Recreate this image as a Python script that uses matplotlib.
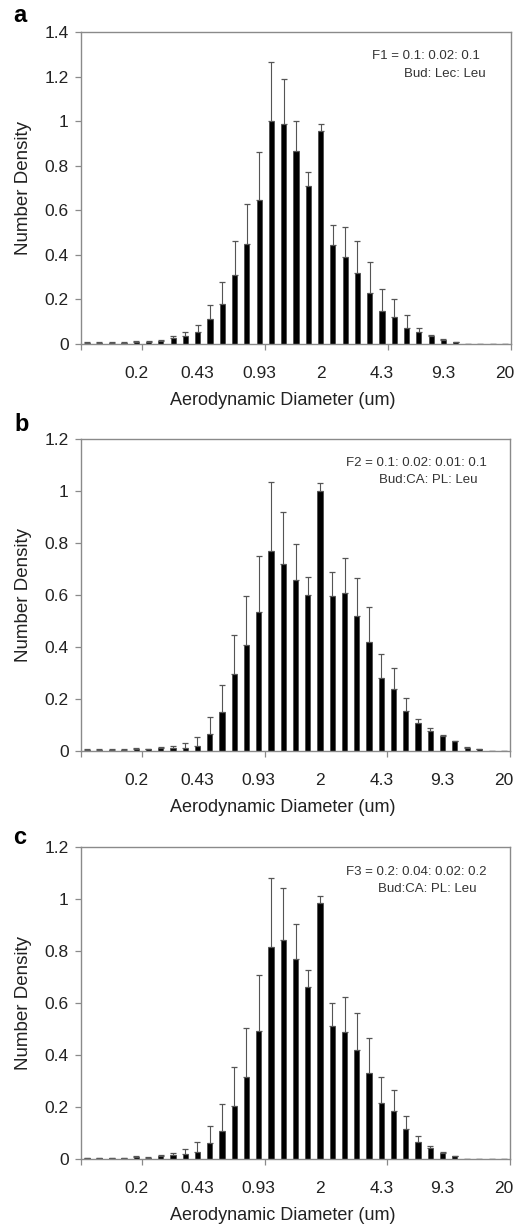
import numpy as np
import matplotlib
matplotlib.use("Agg")
import matplotlib.pyplot as plt

plt.rcParams['font.family'] = ['Liberation Sans', 'DejaVu Sans']

# size bins (35 categories), labelled every 5th bin
n_bins = 35
tick_pos = [4, 9, 14, 19, 24, 29, 34]
tick_labels = ['0.2', '0.43', '0.93', '2', '4.3', '9.3', '20']

# panel a: F1 = Bud:Lec:Leu
density_a = [0.005, 0.005, 0.006, 0.006, 0.01, 0.01, 0.015, 0.025, 0.035, 0.055,
             0.11, 0.18, 0.31, 0.45, 0.644, 1.0, 0.987, 0.864, 0.71, 0.958,
             0.445, 0.39, 0.318, 0.231, 0.149, 0.121, 0.072, 0.052, 0.034, 0.019,
             0.007, 0, 0, 0, 0]
err_a = [0.002, 0.002, 0.002, 0.002, 0.003, 0.003, 0.004, 0.01, 0.018, 0.03,
         0.065, 0.10, 0.15, 0.18, 0.217, 0.266, 0.2, 0.136, 0.063, 0.03,
         0.09, 0.137, 0.145, 0.135, 0.098, 0.082, 0.056, 0.02, 0.008, 0.003,
         0.001, 0, 0, 0, 0]

# panel b: F2 = Bud:CA:PL:Leu
density_b = [0.004, 0.004, 0.004, 0.004, 0.009, 0.006, 0.01, 0.01, 0.011, 0.02,
             0.066, 0.15, 0.296, 0.406, 0.533, 0.768, 0.72, 0.656, 0.601, 1.0,
             0.598, 0.608, 0.52, 0.419, 0.28, 0.237, 0.152, 0.106, 0.076, 0.056,
             0.037, 0.013, 0.008, 0, 0]
err_b = [0.002, 0.002, 0.002, 0.002, 0.003, 0.002, 0.004, 0.008, 0.019, 0.032,
         0.066, 0.105, 0.151, 0.19, 0.218, 0.268, 0.201, 0.139, 0.068, 0.03,
         0.089, 0.133, 0.145, 0.134, 0.095, 0.083, 0.053, 0.019, 0.013, 0.006,
         0.002, 0.001, 0, 0, 0]

# panel c: F3 = Bud:CA:PL:Leu
density_c = [0.003, 0.003, 0.003, 0.003, 0.008, 0.005, 0.011, 0.017, 0.019, 0.027,
             0.061, 0.106, 0.204, 0.317, 0.492, 0.816, 0.842, 0.768, 0.66, 0.983,
             0.512, 0.488, 0.419, 0.33, 0.215, 0.183, 0.115, 0.065, 0.041, 0.023,
             0.01, 0, 0, 0, 0]
err_c = [0.002, 0.002, 0.002, 0.002, 0.003, 0.002, 0.004, 0.005, 0.019, 0.037,
         0.067, 0.104, 0.15, 0.188, 0.215, 0.263, 0.201, 0.135, 0.067, 0.029,
         0.088, 0.136, 0.141, 0.134, 0.099, 0.083, 0.052, 0.024, 0.009, 0.005,
         0.001, 0, 0, 0, 0]

panels = [
    ('a', density_a, err_a, 1.4, 'F1 = 0.1: 0.02: 0.1', 'Bud: Lec: Leu'),
    ('b', density_b, err_b, 1.2, 'F2 = 0.1: 0.02: 0.01: 0.1', 'Bud:CA: PL: Leu'),
    ('c', density_c, err_c, 1.2, 'F3 = 0.2: 0.04: 0.02: 0.2', 'Bud:CA: PL: Leu'),
]

W, H = 516, 1229
fig = plt.figure(figsize=(W / 100, H / 100), dpi=100)

# axes boxes in pixels: left, top, right, bottom
boxes = [(81, 32, 511, 344), (81, 439, 510, 751), (81, 847, 510, 1159)]
text_pos = [((426, 56), (445, 74)), ((416, 463), (428, 480)), ((416, 872), (427, 889))]
letter_pos = [(20, 16), (22, 424), (20, 837)]

grey = '#8a8a8a'
x = np.arange(n_bins)

for (letter, dens, err, ymax, line1, line2), (l, t, r, b), tp, lp in zip(
        panels, boxes, text_pos, letter_pos):
    ax = fig.add_axes([l / W, 1 - b / H, (r - l) / W, (b - t) / H])
    ax.bar(x, dens, width=0.42, color='black', edgecolor='#333333', linewidth=0.4,
           yerr=[np.zeros(n_bins), err],
           error_kw=dict(ecolor='#555555', elinewidth=0.8, capsize=2.5, capthick=0.9))
    ax.set_xlim(-0.5, n_bins - 0.5)
    ax.set_ylim(0, ymax)
    yt = np.round(np.arange(0, ymax + 0.001, 0.2), 1)
    ax.set_yticks(yt)
    ax.set_yticklabels(['%g' % v for v in yt])
    ax.set_xticks(tick_pos)
    ax.set_xticklabels(tick_labels)
    ax.set_xticks([-0.5, 4.5, 14.5, 24.5, 34.5], minor=True)
    ax.tick_params(axis='x', which='major', length=0, pad=16, labelsize=12.5,
                   colors='#222222')
    ax.tick_params(axis='x', which='minor', length=4, width=0.9, color=grey,
                   direction='out')
    ax.tick_params(axis='y', length=4, width=0.9, color=grey, pad=5,
                   labelsize=12.5, labelcolor='#222222')
    for s in ax.spines.values():
        s.set_color(grey)
        s.set_linewidth(1.0)
    ax.set_xlabel('Aerodynamic Diameter (um)', fontsize=13, color='#222222')
    ax.xaxis.set_label_coords((283 - l) / (r - l), -0.18)
    ax.xaxis.label.set_va('center')
    ax.set_ylabel('Number Density', fontsize=13.5, color='#222222')
    ax.yaxis.set_label_coords((24 - l) / (r - l), 0.5)
    ax.yaxis.label.set_va('center')

    for (px, py), s in zip(tp, [line1, line2]):
        fig.text(px / W, 1 - py / H, s, ha='center', va='center', fontsize=9.5,
                 color='#333333')
    fig.text(lp[0] / W, 1 - lp[1] / H, letter, ha='center', va='center',
             fontsize=17, fontweight='bold')

fig.savefig('out.png', dpi=100)
